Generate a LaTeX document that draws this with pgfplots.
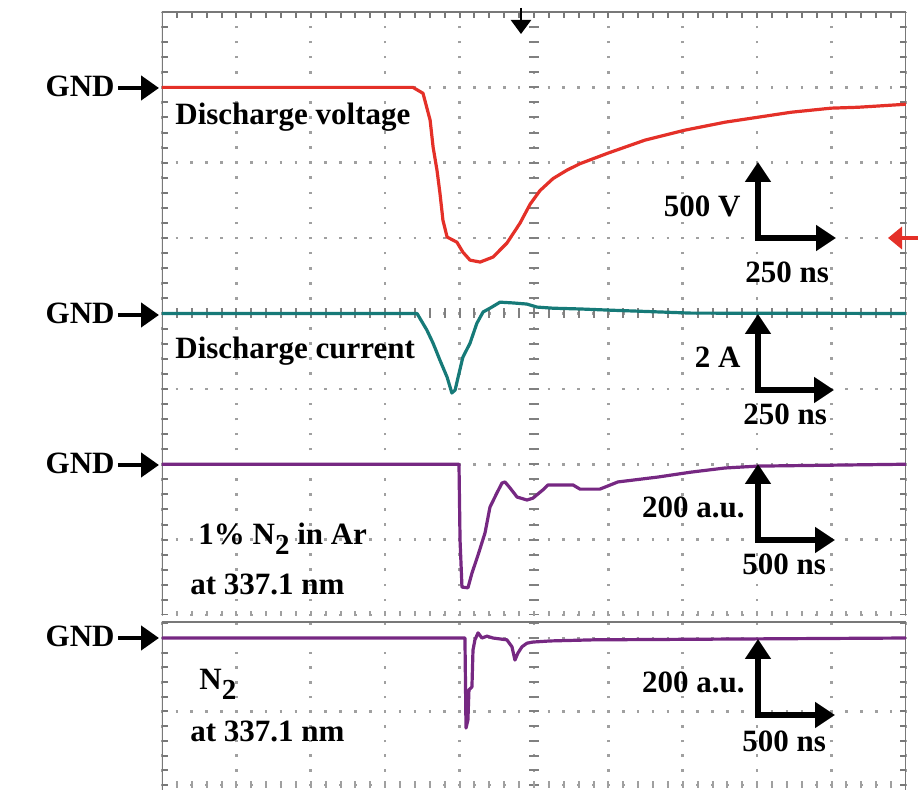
\documentclass[border=0pt]{standalone}
\usepackage{fontspec}
\setmainfont{Liberation Serif}
\usepackage{pgfplots}
\usepackage{pgfplotstable}
\pgfplotsset{compat=1.18}
\usetikzlibrary{arrows.meta}

\definecolor{vcol}{RGB}{228,48,40}
\definecolor{icol}{RGB}{22,122,120}
\definecolor{ecol}{RGB}{118,40,130}
\definecolor{gridc}{RGB}{160,160,160}
\definecolor{framec}{RGB}{120,120,120}

% discharge voltage: t in ns from left edge, V relative to GND
\pgfplotstableread{
t v
0 0
817 0
843 0
877 -39
901 -218
911 -397
924 -549
934 -702
944 -881
958 -993
991 -1027
1011 -1093
1035 -1146
1069 -1159
1112 -1126
1159 -1033
1203 -901
1237 -775
1270 -685
1314 -605
1361 -549
1405 -506
1499 -436
1623 -350
1757 -284
1892 -231
2003 -198
2114 -165
2248 -138
2339 -132
2500 -112
}\voltage

% discharge current (A)
\pgfplotstableread{
t i
0 0
857 0
890 -0.44
911 -0.79
934 -1.24
958 -1.69
974 -2.11
985 -2.03
995 -1.69
1011 -1.16
1035 -0.79
1058 -0.26
1079 0.04
1102 0.14
1136 0.30
1179 0.28
1226 0.25
1260 0.17
1314 0.14
1404 0.12
1499 0.09
1777 0.01
2500 0
}\current

% 1% N2 in Ar at 337.1 nm (a.u.)
\pgfplotstableread{
t a
0 0
1996 0
2003 -201
2016 -326
2056 -328
2083 -289
2124 -241
2171 -182
2204 -114
2251 -76
2285 -50
2305 -47
2339 -63
2386 -87
2453 -95
2493 -90
2560 -68
2594 -55
2762 -55
2809 -66
2943 -66
3064 -47
3333 -34
3555 -21
3783 -10
4005 -5
5000 0
}\emar

% N2 at 337.1 nm (a.u.)
\pgfplotstableread{
t a
0 0
2036 0
2043 -245
2056 -223
2063 -141
2083 -133
2090 -33
2103 -5
2124 14
2150 0
2184 5
2224 0
2318 -5
2352 -24
2372 -60
2392 -41
2419 -24
2453 -14
2493 -11
2607 -8
2896 -5
5000 0
}\emnt

\pgfplotsset{
  screen/.style={
    scale only axis, width=372pt,
    xmin=0, xmax=10, xtick={0,...,10},
    xticklabels={}, yticklabels={},
    major tick length=0pt,
    axis line style={draw=none},
    grid=major,
    y grid style={gridc, line width=1.3pt, dash pattern=on 1.3pt off 6.14pt, dash phase=0.65pt},
  },
  trace/.style={line width=1.6pt, line join=round, no markers},
}

\tikzset{
  lab/.style={font=\fontsize{15.5}{18}\selectfont\bfseries, inner sep=0pt},
  fat/.style={line width=2.6pt, line join=miter, {Triangle[length=10pt,width=12.5pt]}-{Triangle[length=10pt,width=12.5pt]}},
  gnd/.style={line width=2.2pt, -{Triangle[length=9pt,width=12pt]}},
  frame/.style={framec, line width=1.3pt},
  % oscilloscope tick rows, one every 0.2 division
  tickx/.style={framec, line width=3pt, dash pattern=on 1pt off 6.44pt, dash phase=0.5pt},
  ticky/.style={framec, line width=3pt, dash pattern=on 1pt off 6.5375pt, dash phase=0.5pt},
  tickylow/.style={framec, line width=3pt, dash pattern=on 1pt off 6.35pt, dash phase=5.35pt},
}
\newcommand{\Ntwo}{N\raisebox{-5pt}{\fontsize{14.5}{14.5}\selectfont 2}}

\begin{document}
\begin{tikzpicture}
\useasboundingbox (0,0) rectangle (459pt,-395pt);

% upper screen: voltage, current, 1% N2 in Ar
\begin{axis}[screen, at={(81pt,-6pt)}, anchor=north west,
  height=301.5pt, ymin=0, ymax=8, ytick={0,...,8},
  x grid style={gridc, line width=1.3pt, dash pattern=on 1.3pt off 6.2375pt, dash phase=0.65pt}]
  % centre lines with tick marks
  \draw[ticky, line width=5pt, gridc!80!black] (axis cs:5,0) -- (axis cs:5,8);
  \draw[tickx, line width=5pt, gridc!80!black] (axis cs:0,4) -- (axis cs:10,4);
  % border ticks
  \draw[ticky] ([xshift=1.5pt]axis cs:0,0) -- ([xshift=1.5pt]axis cs:0,8);
  \draw[ticky] ([xshift=-1.5pt]axis cs:10,0) -- ([xshift=-1.5pt]axis cs:10,8);
  \draw[tickx] ([yshift=-1.5pt]axis cs:0,8) -- ([yshift=-1.5pt]axis cs:10,8);
  \draw[tickx, line width=3.5pt, gridc] (axis cs:0,0) -- (axis cs:10,0);
  \draw[frame] (axis cs:0,0) -- (axis cs:0,8) -- (axis cs:10,8) -- (axis cs:10,0);
  \addplot[trace, vcol] table[x expr=\thisrow{t}/250, y expr=7+\thisrow{v}/500] {\voltage};
  \addplot[trace, icol] table[x expr=\thisrow{t}/250, y expr=4+\thisrow{i}/2] {\current};
  \addplot[trace, ecol] table[x expr=\thisrow{t}/500, y expr=2+\thisrow{a}/200] {\emar};
\end{axis}

% lower screen: N2
\begin{axis}[screen, at={(81pt,-311pt)}, anchor=north west,
  height=84pt, ymin=-0.068, ymax=2.218, ytick={0,1,2},
  x grid style={gridc, line width=1.3pt, dash pattern=on 1.3pt off 6.05pt, dash phase=5.6pt}]
  \draw[tickylow, line width=5pt, gridc!80!black] (axis cs:5,-0.068) -- (axis cs:5,2.218);
  \draw[tickylow] ([xshift=1.5pt]axis cs:0,-0.068) -- ([xshift=1.5pt]axis cs:0,2.218);
  \draw[tickylow] ([xshift=-1.5pt]axis cs:10,-0.068) -- ([xshift=-1.5pt]axis cs:10,2.218);
  \draw[tickx, line width=3.5pt, gridc] (axis cs:0,0) -- (axis cs:10,0);
  \draw[frame] (axis cs:0,-0.068) -- (axis cs:0,2.218) -- (axis cs:10,2.218) -- (axis cs:10,-0.068);
  \addplot[trace, ecol] table[x expr=\thisrow{t}/500, y expr=2+\thisrow{a}/200] {\emnt};
\end{axis}

\begin{scope}[x=0.5pt, y=-0.5pt]
  % GND markers
  \foreach \g in {88,315,465,638} {
    \node[lab, anchor=base east] at (115,\g+9) {GND};
    \draw[gnd] (118,\g) -- (159,\g);
  }
  % trigger and level markers
  \draw[line width=1.2pt, -{Triangle[length=7pt,width=10pt]}] (521,8) -- (521,34);
  \draw[vcol, line width=2pt, -{Triangle[length=7pt,width=11pt]}] (918,238) -- (888,238);

  % trace names
  \node[lab, anchor=base west] at (175,125) {Discharge voltage};
  \node[lab, anchor=base west] at (175,359) {Discharge current};
  \node[lab, anchor=base west] at (198,545) {1\% \Ntwo{} in Ar};
  \node[lab, anchor=base west] at (190,595) {at 337.1 nm};
  \node[lab, anchor=base west] at (199,690) {\Ntwo};
  \node[lab, anchor=base west] at (190,742) {at 337.1 nm};

  % scale bars
  \draw[fat] (758,162) -- (758,238) -- (836,238);
  \node[lab, anchor=base east] at (741,217) {500 V};
  \node[lab, anchor=base west] at (745,283) {250 ns};

  \draw[fat] (758,314) -- (758,390) -- (834,390);
  \node[lab, anchor=base east] at (741,368) {2 A};
  \node[lab, anchor=base west] at (743,425) {250 ns};

  \draw[fat] (758,464) -- (758,540) -- (835,540);
  \node[lab, anchor=base east] at (745,518) {200 a.u.};
  \node[lab, anchor=base west] at (742,575) {500 ns};

  \draw[fat] (758,639) -- (758,715) -- (835,715);
  \node[lab, anchor=base east] at (745,693) {200 a.u.};
  \node[lab, anchor=base west] at (742,752) {500 ns};
\end{scope}
\end{tikzpicture}
\end{document}
